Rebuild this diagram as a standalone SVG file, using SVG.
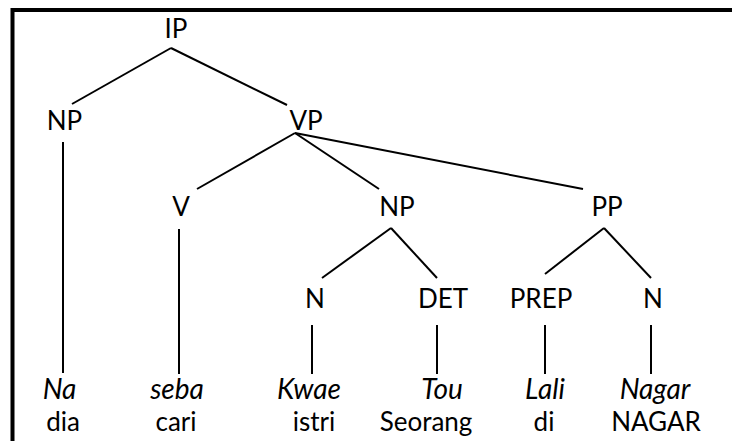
<svg xmlns="http://www.w3.org/2000/svg" width="732" height="441" viewBox="0 0 732 441">
  <style>
    .lbl { font-family: Lato, "Open Sans", "Liberation Sans", sans-serif; font-size: 26px; fill: #000; text-anchor: middle; }
    .it { font-style: italic; font-size: 28px; }
    .edge { stroke: #000; stroke-width: 2; fill: none; stroke-linecap: butt; }
    .frame { stroke: #000; stroke-width: 4; fill: none; }
  </style>
  <rect width="732" height="441" fill="#fff"/>

  <!-- frame: top and left rules -->
  <g id="frame">
    <line class="frame" x1="12.5" y1="10" x2="732" y2="10"/>
    <line class="frame" x1="12.5" y1="8" x2="12.5" y2="441"/>
  </g>

  <!-- branches of the tree -->
  <g id="connectors">
    <line class="edge" x1="171" y1="48" x2="72" y2="104"/>
    <line class="edge" x1="171" y1="48" x2="287" y2="105"/>
    <line class="edge" x1="295" y1="133" x2="197" y2="189"/>
    <line class="edge" x1="295" y1="133" x2="379" y2="189"/>
    <line class="edge" x1="295" y1="133" x2="583" y2="189"/>
    <line class="edge" x1="63" y1="142" x2="63" y2="373"/>
    <line class="edge" x1="179" y1="229" x2="179" y2="374"/>
    <line class="edge" x1="391" y1="228" x2="322" y2="278"/>
    <line class="edge" x1="391" y1="228" x2="437" y2="278"/>
    <line class="edge" x1="604" y1="228" x2="545" y2="274"/>
    <line class="edge" x1="604" y1="228" x2="651" y2="278"/>
    <line class="edge" x1="312" y1="325" x2="312" y2="374"/>
    <line class="edge" x1="437" y1="325" x2="437" y2="374"/>
    <line class="edge" x1="545" y1="325" x2="545" y2="374"/>
    <line class="edge" x1="651" y1="325" x2="651" y2="374"/>
  </g>

  <!-- phrase and category nodes -->
  <g id="node-ip"><text class="lbl" x="176" y="38">IP</text></g>
  <g id="node-np"><text class="lbl" x="64.5" y="129.5">NP</text></g>
  <g id="node-vp"><text class="lbl" x="306" y="129.5">VP</text></g>
  <g id="node-v"><text class="lbl" x="181" y="216">V</text></g>
  <g id="node-np2"><text class="lbl" x="397" y="216">NP</text></g>
  <g id="node-pp"><text class="lbl" x="607" y="216">PP</text></g>
  <g id="node-n"><text class="lbl" x="315" y="308">N</text></g>
  <g id="node-det"><text class="lbl" x="443" y="308">DET</text></g>
  <g id="node-prep"><text class="lbl" x="541" y="308">PREP</text></g>
  <g id="node-n2"><text class="lbl" x="653" y="308">N</text></g>

  <!-- leaves: word and gloss -->
  <g id="leaf-na"><text class="lbl it" x="59.5" y="399">Na</text><text class="lbl" x="63" y="430.5">dia</text></g>
  <g id="leaf-seba"><text class="lbl it" x="177" y="399">seba</text><text class="lbl" x="176" y="430.5">cari</text></g>
  <g id="leaf-kwae"><text class="lbl it" x="309" y="399">Kwae</text><text class="lbl" x="314" y="430.5">istri</text></g>
  <g id="leaf-tou"><text class="lbl it" x="442" y="399">Tou</text><text class="lbl" x="426" y="430.5">Seorang</text></g>
  <g id="leaf-lali"><text class="lbl it" x="545" y="399">Lali</text><text class="lbl" x="544" y="430.5">di</text></g>
  <g id="leaf-nagar"><text class="lbl it" x="655" y="399">Nagar</text><text class="lbl" x="656" y="430.5">NAGAR</text></g>
</svg>
